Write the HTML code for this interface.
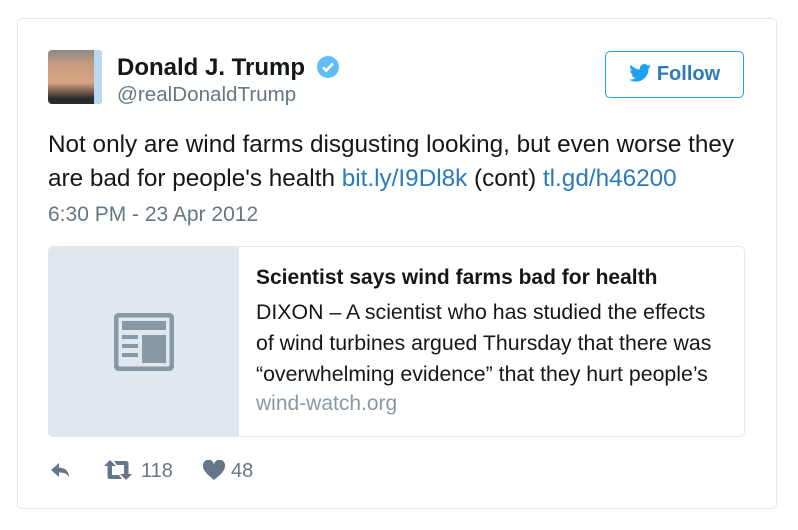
<!DOCTYPE html>
<html><head><meta charset="utf-8"><style>
body{margin:0;width:798px;height:530px;background:#fff;font-family:"Liberation Sans",sans-serif;position:relative;overflow:hidden}
.a{position:absolute;white-space:nowrap}
</style></head><body>
<div class="a" style="left:17px;top:18px;width:758px;height:489px;border:1px solid #e1e8ed;border-radius:5px"></div>
<div class="a" style="left:48px;top:50px;width:54px;height:54px;border-radius:4px;background:linear-gradient(180deg,#8a8a86 0%,#c89a80 25%,#d9a383 60%,#2a2a2a 90%);overflow:hidden"><div style="position:absolute;right:0;top:0;width:8px;height:54px;background:#b9d8ec"></div></div>
<div class="a" style="left:117px;top:54px;font-size:24px;font-weight:bold;color:#14171a">Donald J. Trump</div>
<svg class="a" style="left:316px;top:55px" width="24" height="24" viewBox="0 0 24 24"><circle cx="12" cy="12" r="11" fill="#1da1f2" opacity=".7"/><path d="M7 12.5l3.2 3L17 8.5" stroke="#fff" stroke-width="2.6" fill="none"/></svg>
<div class="a" style="left:117px;top:83px;font-size:20.6px;color:#657786">@realDonaldTrump</div>
<div class="a" style="left:605px;top:51px;width:137px;height:45px;border:1px solid #1da1f2;border-radius:5px;color:#2b7bb9;font-size:20px;font-weight:bold;line-height:45px;text-align:center"><svg width="22" height="18" viewBox="0 0 24 20" style="vertical-align:-2px;margin-right:6px"><path d="M24 2.4c-.9.4-1.8.6-2.8.8 1-.6 1.8-1.6 2.2-2.7-1 .6-2 1-3.1 1.2A4.9 4.9 0 0 0 11.9 6 14 14 0 0 1 1.7.9a4.9 4.9 0 0 0 1.5 6.6c-.8 0-1.6-.3-2.2-.6 0 2.4 1.7 4.4 3.9 4.8-.7.2-1.5.2-2.2.1.6 2 2.4 3.4 4.6 3.4A9.9 9.9 0 0 1 0 17.3 14 14 0 0 0 7.5 19.5c9 0 14-7.5 14-14v-.6c1-.7 1.8-1.6 2.5-2.5z" fill="#1da1f2"/></svg>Follow</div>
<div class="a" style="left:48px;top:128px;font-size:24.3px;line-height:34px;color:#14171a">Not only are wind farms disgusting looking, but even worse they<br>are bad for people's health <span style="color:#2b7bb9">bit.ly/I9Dl8k</span> (cont) <span style="color:#2b7bb9">tl.gd/h46200</span></div>
<div class="a" style="left:48px;top:203px;font-size:21px;color:#657786">6:30 PM - 23 Apr 2012</div>
<div class="a" style="left:48px;top:246px;width:695px;height:189px;border:1px solid #e1e8ed;border-radius:5px;overflow:hidden">
<div class="a" style="left:0;top:0;width:190px;height:189px;background:#e1e8ed">
<svg class="a" style="left:65px;top:66px" width="60" height="58" viewBox="0 0 60 58"><rect x="2" y="2" width="56" height="54" rx="4" fill="none" stroke="#8899a6" stroke-width="5"/><rect x="8" y="8" width="44" height="9" fill="#8899a6"/><rect x="8" y="22" width="16" height="4" fill="#8899a6"/><rect x="8" y="31" width="16" height="4" fill="#8899a6"/><rect x="8" y="40" width="16" height="4" fill="#8899a6"/><rect x="28" y="22" width="24" height="28" fill="#8899a6"/></svg></div>
<div class="a" style="left:207px;top:19px;font-size:21px;font-weight:bold;color:#14171a">Scientist says wind farms bad for health</div>
<div class="a" style="left:207px;top:50px;font-size:21.3px;line-height:31px;color:#14171a">DIXON – A scientist who has studied the effects<br>of wind turbines argued Thursday that there was<br>“overwhelming evidence” that they hurt people’s</div>
<div class="a" style="left:207px;top:145px;font-size:21px;color:#8899a6">wind-watch.org</div>
</div>
<svg class="a" style="left:50px;top:461px" width="24" height="20" viewBox="0 0 24 20"><path d="M9 2L1 9l8 7v-4.5c5 0 8 1 10 5 0-6-3-9.5-10-10z" fill="#657786"/></svg>
<svg class="a" style="left:103px;top:459px" width="30" height="22" viewBox="0 0 30 22"><path d="M7 1l6 6H9v9h7l3 4H7c-1.5 0-2.5-1-2.5-2.5V7H1z" fill="#657786"/><path d="M23 21l-6-6h4V6h-7l-3-4h12c1.5 0 2.5 1 2.5 2.5V15H29z" fill="#657786"/></svg>
<div class="a" style="left:141px;top:460px;font-size:20px;color:#657786">118</div>
<svg class="a" style="left:203px;top:460px" width="22" height="20" viewBox="0 0 22 20"><path d="M11 20C5 15 0 11 0 6a5.5 5.5 0 0 1 11-1.5A5.5 5.5 0 0 1 22 6c0 5-5 9-11 14z" fill="#657786"/></svg>
<div class="a" style="left:231px;top:460px;font-size:20px;color:#657786">48</div>
</body></html>
